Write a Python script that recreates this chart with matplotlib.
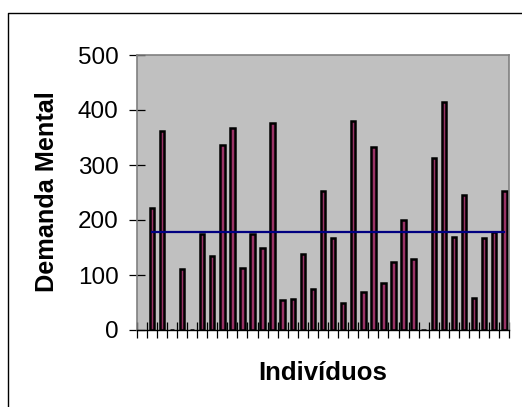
import matplotlib
matplotlib.use("Agg")
import matplotlib.pyplot as plt
from matplotlib.lines import Line2D
import numpy as np

plt.rcParams['font.family'] = ['Liberation Sans', 'DejaVu Sans']

# Data (slot 0 is an empty category in the original chart)
individuos = list(range(1, 37))
demanda_mental = [221, 361, 0, 111, 0, 175, 135, 336, 368, 112, 175, 150,
                  376, 55, 57, 138, 75, 252, 167, 49, 380, 70, 332, 85,
                  124, 200, 130, 0, 313, 415, 170, 245, 58, 167, 179, 252]
media = [178] * len(individuos)
y_ticks = [0, 100, 200, 300, 400, 500]

W, H = 522, 407
fig = plt.figure(figsize=(W / 100, H / 100), dpi=100)
fig.patch.set_facecolor('white')

left, right, bottom, top = 136.7, 509.3, 330, 55
ax = fig.add_axes([left / W, 1 - bottom / H, (right - left) / W, (bottom - top) / H])
ax.set_facecolor('#C0C0C0')

ax.bar(individuos, demanda_mental, width=0.45, color='#993366',
       edgecolor='black', linewidth=1.8, zorder=2)
ax.plot(individuos, media, color='#000080', linewidth=1.6, zorder=3)

ax.set_xlim(-0.5, 36.5)
ax.set_ylim(0, 500)
ax.set_yticks(y_ticks)
ax.set_yticklabels([str(v) for v in y_ticks])
ax.set_xticks(np.arange(-0.5, 37, 1.0))
ax.set_xticklabels([])

ax.tick_params(axis='y', direction='inout', length=12, width=0.9, color='black',
               labelsize=17.5, pad=7)
ax.tick_params(axis='x', direction='inout', length=11, width=0.9, color='black')

for side in ['top', 'right', 'left']:
    ax.spines[side].set_color('#808080')
    ax.spines[side].set_linewidth(1.2)
ax.spines['bottom'].set_color('black')
ax.spines['bottom'].set_linewidth(1.0)
ax.spines['bottom'].set_zorder(4)

fig.text(47 / W, 1 - 192 / H, 'Demanda Mental', rotation=90, ha='center',
         va='center', fontsize=18.2, fontweight='bold')
fig.text(323 / W, 1 - 373 / H, 'Indivíduos', ha='center', va='center',
         fontsize=18.5, fontweight='bold')

# outer chart border
fig.add_artist(Line2D([8 / W, 8 / W, 1.0], [0.0, 1 - 13 / H, 1 - 13 / H],
                      color='black', linewidth=1.0, transform=fig.transFigure))

fig.savefig('out.png', dpi=100)
